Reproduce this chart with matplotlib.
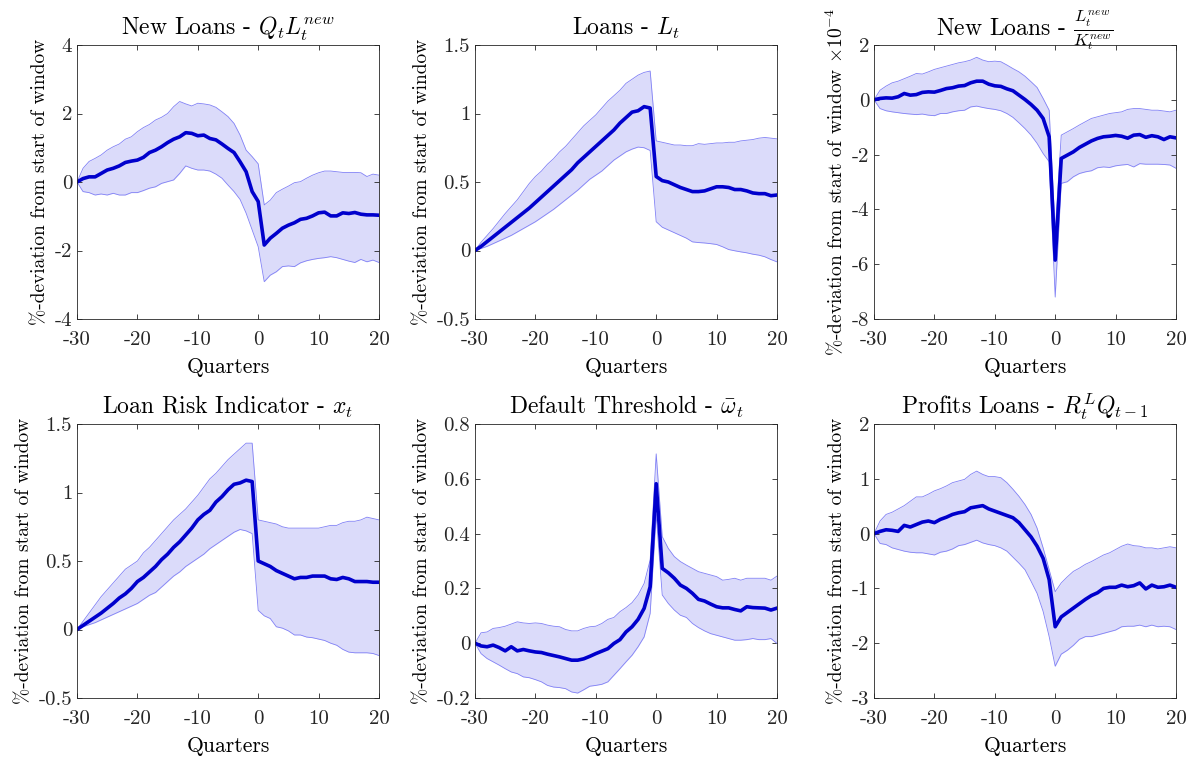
import numpy as np
import matplotlib
matplotlib.use("Agg")
import matplotlib.pyplot as plt
from matplotlib.ticker import FuncFormatter

plt.rcParams["font.family"] = "serif"
plt.rcParams["font.serif"] = ["cmr10"]
plt.rcParams["mathtext.fontset"] = "cm"
plt.rcParams["axes.unicode_minus"] = False
plt.rcParams["axes.formatter.use_mathtext"] = True

quarters = np.arange(-30, 21)

# ---- New Loans - Q_t L_t^new
newloans_mean = [0, 0.1, 0.15, 0.15, 0.25, 0.35, 0.4, 0.47, 0.57, 0.61, 0.64, 0.72, 0.86, 0.93, 1.03, 1.15, 1.25,
                 1.32, 1.44, 1.42, 1.35, 1.37, 1.27, 1.23, 1.11, 0.98, 0.86, 0.59, 0.3, -0.28, -0.57,
                 -1.84, -1.64, -1.5, -1.35, -1.26, -1.19, -1.09, -1.06, -0.99, -0.9, -0.88, -0.99, -0.99, -0.9,
                 -0.92, -0.89, -0.94, -0.96, -0.96, -0.97]
newloans_hi = [0, 0.4, 0.6, 0.69, 0.79, 0.93, 1.03, 1.11, 1.25, 1.32, 1.47, 1.59, 1.68, 1.81, 1.89, 2.0, 2.2,
               2.35, 2.28, 2.22, 2.3, 2.28, 2.25, 2.18, 2.05, 1.91, 1.71, 1.37, 0.93, 0.74, 0.53,
               -0.67, -0.53, -0.31, -0.21, -0.12, -0.02, 0.01, 0.11, 0.2, 0.27, 0.32, 0.32, 0.3, 0.28,
               0.28, 0.28, 0.27, 0.16, 0.23, 0.2]
newloans_lo = [0, -0.28, -0.31, -0.38, -0.35, -0.38, -0.33, -0.38, -0.38, -0.31, -0.31, -0.25, -0.18, -0.14,
               -0.04, 0.01, 0.06, 0.25, 0.47, 0.4, 0.35, 0.35, 0.32, 0.23, 0.11, -0.09, -0.28, -0.51, -0.91,
               -1.4, -1.89, -2.91, -2.72, -2.62, -2.47, -2.45, -2.47, -2.36, -2.3, -2.26, -2.23, -2.21, -2.18,
               -2.21, -2.26, -2.31, -2.35, -2.26, -2.33, -2.28, -2.35]

# ---- Loans - L_t
loans_mean = [0, 0.03, 0.065, 0.1, 0.135, 0.17, 0.205, 0.24, 0.275, 0.31, 0.35, 0.39, 0.43, 0.47, 0.51, 0.55,
              0.59, 0.64, 0.68, 0.72, 0.76, 0.8, 0.84, 0.88, 0.93, 0.97, 1.01, 1.02, 1.05, 1.04,
              0.54, 0.51, 0.5, 0.48, 0.46, 0.445, 0.43, 0.43, 0.435, 0.45, 0.465, 0.465, 0.46, 0.445,
              0.445, 0.435, 0.42, 0.415, 0.415, 0.4, 0.405]
loans_hi = [0, 0.06, 0.11, 0.16, 0.215, 0.27, 0.32, 0.37, 0.43, 0.49, 0.54, 0.58, 0.63, 0.67, 0.72, 0.76, 0.81,
            0.86, 0.91, 0.95, 0.99, 1.04, 1.09, 1.13, 1.17, 1.22, 1.25, 1.28, 1.3, 1.31,
            0.8, 0.79, 0.78, 0.77, 0.77, 0.765, 0.765, 0.78, 0.775, 0.78, 0.785, 0.785, 0.79, 0.79, 0.8,
            0.805, 0.81, 0.82, 0.825, 0.82, 0.815]
loans_lo = [0, 0.015, 0.03, 0.05, 0.07, 0.09, 0.11, 0.135, 0.16, 0.185, 0.21, 0.24, 0.27, 0.3, 0.335, 0.37,
            0.405, 0.44, 0.48, 0.52, 0.55, 0.58, 0.62, 0.66, 0.69, 0.72, 0.74, 0.755, 0.75, 0.73,
            0.21, 0.17, 0.15, 0.13, 0.11, 0.09, 0.063, 0.058, 0.055, 0.05, 0.044, 0.027, 0.007, -0.002,
            -0.01, -0.017, -0.027, -0.034, -0.046, -0.066, -0.083]

# ---- New Loans - L_t^new / K_t^new  (x 1e-4)
ratio_mean = [0, 0.05, 0.07, 0.06, 0.11, 0.23, 0.17, 0.19, 0.27, 0.29, 0.28, 0.34, 0.41, 0.44, 0.5, 0.52, 0.62,
              0.68, 0.68, 0.57, 0.51, 0.49, 0.4, 0.33, 0.17, 0.01, -0.17, -0.38, -0.68, -1.35,
              -5.85, -2.14, -2.02, -1.9, -1.74, -1.62, -1.5, -1.41, -1.35, -1.33, -1.3, -1.33, -1.4, -1.29,
              -1.27, -1.37, -1.31, -1.35, -1.45, -1.35, -1.39]
ratio_hi = [0, 0.35, 0.5, 0.62, 0.68, 0.77, 0.86, 0.96, 0.94, 1.02, 1.11, 1.17, 1.23, 1.29, 1.35, 1.39, 1.45,
            1.55, 1.45, 1.39, 1.41, 1.39, 1.27, 1.14, 1.02, 0.86, 0.66, 0.45, 0.05, -0.38,
            -4.8, -1.29, -1.17, -1.05, -0.92, -0.8, -0.68, -0.62, -0.56, -0.5, -0.47, -0.44, -0.35, -0.32,
            -0.32, -0.35, -0.38, -0.38, -0.41, -0.44, -0.38]
ratio_lo = [0, -0.32, -0.4, -0.44, -0.47, -0.5, -0.52, -0.54, -0.52, -0.56, -0.58, -0.5, -0.5, -0.44, -0.4,
            -0.38, -0.26, -0.23, -0.28, -0.32, -0.35, -0.4, -0.5, -0.64, -0.84, -1.05, -1.29, -1.59, -1.96,
            -2.26, -7.2, -3.05, -2.99, -2.81, -2.69, -2.63, -2.59, -2.48, -2.45, -2.47, -2.41, -2.38, -2.36,
            -2.45, -2.33, -2.35, -2.35, -2.35, -2.36, -2.38, -2.5]

# ---- Loan Risk Indicator - x_t
risk_mean = [0, 0.03, 0.06, 0.09, 0.12, 0.155, 0.19, 0.23, 0.26, 0.3, 0.35, 0.38, 0.42, 0.46, 0.51, 0.55, 0.6,
             0.64, 0.69, 0.74, 0.8, 0.84, 0.87, 0.93, 0.97, 1.02, 1.06, 1.07, 1.09, 1.08,
             0.5, 0.48, 0.46, 0.43, 0.41, 0.39, 0.37, 0.38, 0.38, 0.39, 0.39, 0.39, 0.37, 0.365, 0.38,
             0.37, 0.35, 0.35, 0.35, 0.345, 0.345]
risk_hi = [0, 0.06, 0.12, 0.18, 0.24, 0.29, 0.34, 0.39, 0.44, 0.47, 0.5, 0.56, 0.6, 0.65, 0.7, 0.75, 0.8, 0.84,
           0.88, 0.93, 0.98, 1.04, 1.1, 1.14, 1.19, 1.24, 1.28, 1.32, 1.36, 1.36,
           0.8, 0.79, 0.78, 0.77, 0.75, 0.74, 0.74, 0.74, 0.74, 0.74, 0.74, 0.75, 0.76, 0.76, 0.78, 0.79,
           0.79, 0.8, 0.82, 0.81, 0.8]
risk_lo = [0, 0.02, 0.035, 0.05, 0.07, 0.09, 0.11, 0.13, 0.15, 0.17, 0.19, 0.22, 0.25, 0.27, 0.31, 0.35, 0.39,
           0.42, 0.46, 0.49, 0.52, 0.55, 0.59, 0.62, 0.65, 0.68, 0.71, 0.73, 0.72, 0.7,
           0.14, 0.1, 0.08, 0.02, 0.01, -0.01, -0.04, -0.04, -0.055, -0.06, -0.07, -0.08, -0.1, -0.115,
           -0.145, -0.165, -0.17, -0.17, -0.17, -0.175, -0.19]

# ---- Default Threshold - omega bar
omega_mean = [0, -0.01, -0.013, -0.007, -0.016, -0.028, -0.013, -0.028, -0.023, -0.028, -0.032, -0.034, -0.04,
              -0.045, -0.05, -0.056, -0.062, -0.062, -0.057, -0.048, -0.038, -0.029, -0.02, -0.001, 0.013,
              0.041, 0.06, 0.087, 0.127, 0.206, 0.582, 0.273, 0.257, 0.237, 0.212, 0.2, 0.182, 0.16, 0.154,
              0.143, 0.133, 0.129, 0.129, 0.123, 0.118, 0.133, 0.13, 0.129, 0.128, 0.121, 0.128]
omega_hi = [0, 0.038, 0.041, 0.054, 0.057, 0.062, 0.07, 0.078, 0.074, 0.072, 0.074, 0.072, 0.066, 0.062, 0.06,
            0.05, 0.045, 0.045, 0.054, 0.06, 0.062, 0.072, 0.087, 0.094, 0.115, 0.13, 0.148, 0.176, 0.218,
            0.304, 0.691, 0.389, 0.346, 0.316, 0.298, 0.285, 0.273, 0.261, 0.255, 0.249, 0.243, 0.23,
            0.233, 0.237, 0.23, 0.237, 0.237, 0.237, 0.237, 0.23, 0.245]
omega_lo = [0, -0.038, -0.056, -0.068, -0.08, -0.093, -0.105, -0.111, -0.123, -0.126, -0.133, -0.141, -0.154,
            -0.16, -0.162, -0.166, -0.178, -0.182, -0.17, -0.157, -0.154, -0.15, -0.141, -0.117, -0.093,
            -0.068, -0.044, -0.013, 0.023, 0.109, 0.47, 0.176, 0.145, 0.121, 0.102, 0.094, 0.072, 0.057,
            0.045, 0.035, 0.029, 0.023, 0.017, 0.011, 0.011, 0.013, 0.017, 0.013, 0.013, 0.017, -0.001]

# ---- Profits Loans - R_t^L Q_{t-1}
profit_mean = [0, 0.04, 0.07, 0.06, 0.04, 0.15, 0.12, 0.165, 0.21, 0.23, 0.2, 0.26, 0.3, 0.35, 0.38, 0.4, 0.47,
               0.49, 0.51, 0.45, 0.41, 0.37, 0.33, 0.29, 0.2, 0.07, -0.06, -0.23, -0.45, -0.84,
               -1.7, -1.52, -1.44, -1.36, -1.28, -1.2, -1.13, -1.08, -1.0, -0.98, -0.98, -0.94, -0.97,
               -0.95, -0.9, -1.01, -0.94, -0.98, -0.97, -0.94, -0.98]
profit_hi = [0, 0.23, 0.35, 0.39, 0.45, 0.51, 0.59, 0.67, 0.67, 0.72, 0.78, 0.82, 0.87, 0.93, 0.96, 0.99, 1.08,
             1.14, 1.08, 1.04, 1.04, 1.02, 0.93, 0.81, 0.68, 0.53, 0.35, 0.1, -0.26, -0.66,
             -1.06, -0.9, -0.79, -0.69, -0.63, -0.56, -0.51, -0.45, -0.39, -0.35, -0.29, -0.23, -0.19,
             -0.22, -0.23, -0.26, -0.26, -0.28, -0.26, -0.24, -0.26]
profit_lo = [0, -0.18, -0.2, -0.26, -0.29, -0.32, -0.34, -0.35, -0.35, -0.37, -0.39, -0.34, -0.32, -0.28,
             -0.22, -0.2, -0.16, -0.12, -0.17, -0.2, -0.22, -0.26, -0.32, -0.43, -0.54, -0.66, -0.87, -1.09,
             -1.42, -1.88, -2.42, -2.2, -2.13, -2.04, -1.93, -1.88, -1.88, -1.85, -1.82, -1.79, -1.76, -1.7,
             -1.69, -1.69, -1.67, -1.7, -1.67, -1.7, -1.69, -1.7, -1.75]

titles = [r"New Loans - $Q_tL_t^{new}$", r"Loans - $L_t$", r"New Loans - $\frac{L_t^{new}}{K_t^{new}}$",
          r"Loan Risk Indicator - $x_t$", r"Default Threshold - $\bar{\omega}_t$",
          r"Profits Loans - $R_t^LQ_{t-1}$"]
ylabel = "%-deviation from start of window"
ylims = [(-4, 4), (-0.5, 1.5), (-8, 2), (-0.5, 1.5), (-0.2, 0.8), (-3, 2)]
yticks = [np.arange(-4, 4.1, 2), np.arange(-0.5, 1.6, 0.5), np.arange(-8, 2.1, 2),
          np.arange(-0.5, 1.6, 0.5), np.arange(-0.2, 0.81, 0.2), np.arange(-3, 2.1, 1)]
series = [(newloans_mean, newloans_lo, newloans_hi), (loans_mean, loans_lo, loans_hi),
          (ratio_mean, ratio_lo, ratio_hi), (risk_mean, risk_lo, risk_hi),
          (omega_mean, omega_lo, omega_hi), (profit_mean, profit_lo, profit_hi)]

fig = plt.figure(figsize=(11.96, 7.6), dpi=100)
lefts = [77, 475, 874]
tops = [45, 424]
W, H = 302, 274

fmt = FuncFormatter(lambda v, p: "%g" % round(v, 6))

for i in range(6):
    r, c = divmod(i, 3)
    ax = fig.add_axes([lefts[c] / 1196, 1 - (tops[r] + H) / 760, W / 1196, H / 760])
    m, lo, hi = series[i]
    ax.fill_between(quarters, lo, hi, color=(0.86, 0.86, 0.98), lw=0)
    ax.plot(quarters, lo, color=(0.5, 0.5, 0.96), lw=0.6)
    ax.plot(quarters, hi, color=(0.5, 0.5, 0.96), lw=0.6)
    ax.plot(quarters, m, color=(0.0, 0.0, 0.8), lw=2.6)
    ax.set_xlim(-30, 20)
    ax.set_ylim(*ylims[i])
    ax.set_xticks(np.arange(-30, 21, 10))
    ax.set_yticks(yticks[i])
    ax.xaxis.set_major_formatter(fmt)
    ax.yaxis.set_major_formatter(fmt)
    ax.tick_params(direction="in", length=3.5, width=0.6, top=True, right=True,
                   labelsize=15, colors=(0.15, 0.15, 0.15))
    ax.tick_params(axis="x", pad=9)
    for s in ax.spines.values():
        s.set_linewidth(0.6)
        s.set_color((0.15, 0.15, 0.15))
    ax.set_title(titles[i], fontsize=17, pad=7)
    ax.set_xlabel("Quarters", fontsize=15.5, labelpad=6)
    lab = ylabel + (r" $\times 10^{-4}$" if i == 2 else "")
    ax.set_ylabel(lab, fontsize=14, labelpad=4)

fig.savefig("out.png", dpi=100)
